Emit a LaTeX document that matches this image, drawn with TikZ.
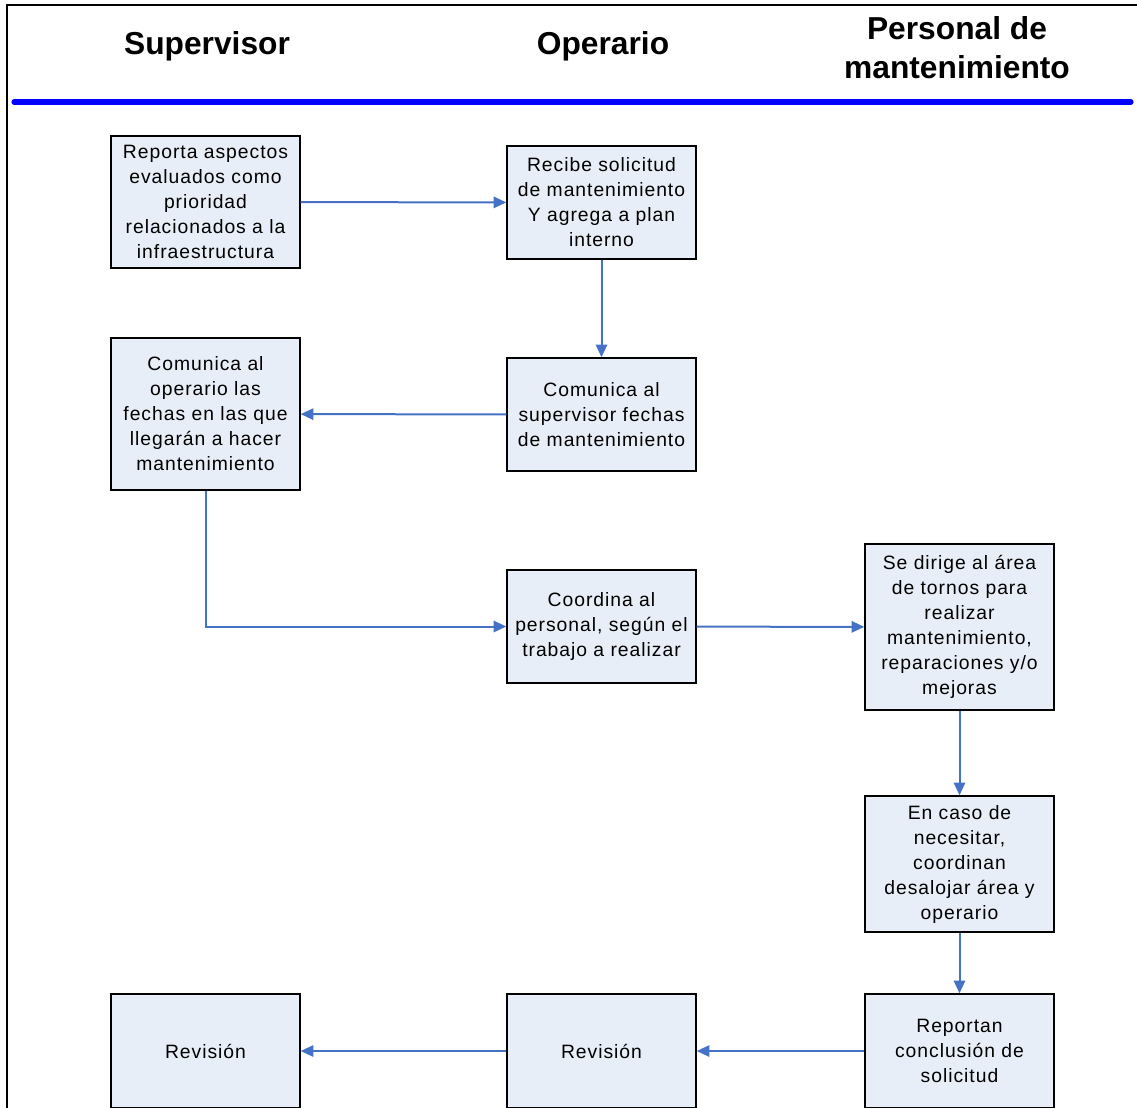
\documentclass[tikz,border=0pt]{standalone}
\usepackage{fontspec}
\setmainfont{Liberation Sans}
\newfontfamily\cajafont[LetterSpace=5]{Liberation Sans}
\usetikzlibrary{arrows.meta}

\definecolor{boxfill}{RGB}{232,238,247}
\definecolor{flowblue}{RGB}{68,114,196}

\begin{document}
\begin{tikzpicture} [x=0.75pt, y=-0.75pt,
  tarea/.style={draw=black, line width=1.1pt, fill=boxfill, rectangle,
    minimum width=141.75pt, inner sep=2pt, align=center,
    font=\cajafont\fontsize{14.5}{18.75}\selectfont},
  titulo/.style={align=center, font=\fontsize{23.8}{29.25}\selectfont\bfseries},
  flecha/.style={draw=flowblue, line width=1.5pt,
    -{Triangle[length=9.5pt, width=8.5pt]}}]

\useasboundingbox (0,0) rectangle (1137,1107);

% marco y encabezado
\draw [line width=2pt] (7,1110) -- (7,5) -- (1140,5);
\draw [blue, line width=3.8pt, line cap=round] (14,102) -- (1131,102);

\node [titulo] (hsup) at (207,46) {Supervisor};
\node [titulo] (hope) at (603,46) {Operario};
\node [titulo] (hper) at (957,48) {Personal de\\mantenimiento};

% tareas
\node [tarea, minimum height=99pt] (reporta) at (205.5,202) {Reporta aspectos\\evaluados como\\prioridad\\relacionados a la\\infraestructura};
\node [tarea, minimum height=84.75pt] (recibe) at (601.5,202.5) {Recibe solicitud\\de mantenimiento\\Y agrega a plan\\interno};
\node [tarea, minimum height=84.75pt] (comsup) at (601.5,414.5) {Comunica al\\supervisor fechas\\de mantenimiento};
\node [tarea, minimum height=114pt] (comope) at (205.5,414) {Comunica al\\operario las\\fechas en las que\\llegarán a hacer\\mantenimiento};
\node [tarea, minimum height=84.75pt] (coordina) at (601.5,626.5) {Coordina al\\personal, según el\\trabajo a realizar};
\node [tarea, minimum height=124.5pt] (dirige) at (959.5,627) {Se dirige al área\\de tornos para\\realizar\\mantenimiento,\\reparaciones y/o\\mejoras};
\node [tarea, minimum height=102pt] (caso) at (959.5,864) {En caso de\\necesitar,\\coordinan\\desalojar área y\\operario};
\node [tarea, minimum height=85.5pt] (concl) at (959.5,1051) {Reportan\\conclusión de\\solicitud};
\node [tarea, minimum height=85.5pt] (revope) at (601.5,1051) {Revisión};
\node [tarea, minimum height=85.5pt] (revsup) at (205.5,1051) {Revisión};

% flujo
\draw [flecha] (reporta) -- (recibe);
\draw [flecha] (recibe) -- (comsup);
\draw [flecha] (comsup) -- (comope);
\draw [flecha] (comope.south) |- (coordina.west);
\draw [flecha] (coordina) -- (dirige);
\draw [flecha] (dirige) -- (caso);
\draw [flecha] (caso) -- (concl);
\draw [flecha] (concl) -- (revope);
\draw [flecha] (revope) -- (revsup);

\end{tikzpicture}
\end{document}
